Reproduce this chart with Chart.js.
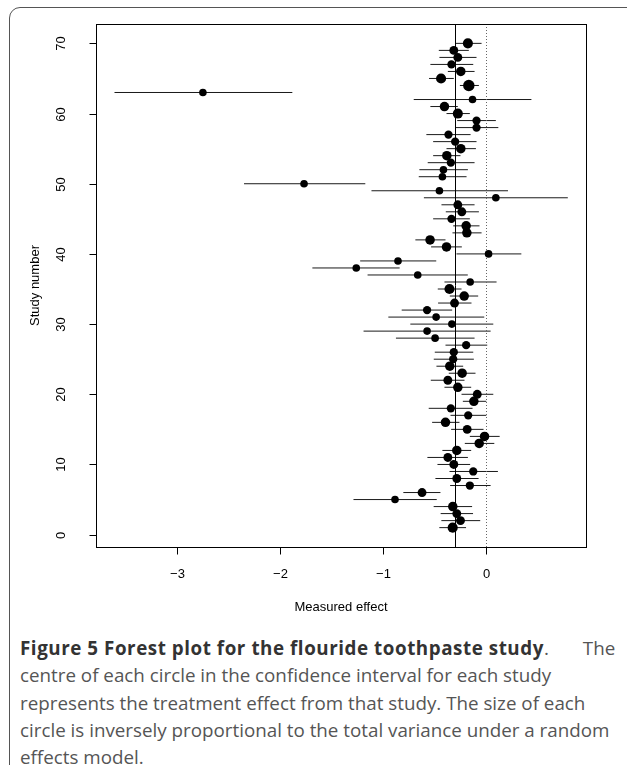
<!DOCTYPE html>
<html>
<head>
<meta charset="utf-8">
<script src="https://cdn.jsdelivr.net/npm/chart.js@4.4.0/dist/chart.umd.min.js"></script>
<style>
  body { margin: 0; background: #fff; width: 627px; height: 765px; overflow: hidden; position: relative; }
  #frame { position: absolute; left: 9px; top: 7px; width: 700px; height: 800px; border: 1.5px solid #555; border-radius: 11px; }
  #plot { position: absolute; left: 0; top: 0; }
  #caption { position: absolute; left: 20px; top: 635px; font-family: "Open Sans", sans-serif; font-size: 18.8px; line-height: 27.3px; color: #555; white-space: nowrap; }
  #caption b { color: #333; font-weight: 700; letter-spacing: 0.55px; }
  #caption .gap { display: inline-block; width: 34px; }
</style>
</head>
<body>
<div id="frame"></div>
<canvas id="plot" width="627" height="620"></canvas>
<div id="caption"><b>Figure 5 Forest plot for the flouride toothpaste study</b>.<span class="gap"></span>The<br>centre of each circle in the confidence interval for each study<br>represents the treatment effect from that study. The size of each<br>circle is inversely proportional to the total variance under a random<br>effects model.</div>
<script>
// study numbers (y) and read-off effects with 95% intervals
var studyNumber = [1, 2, 3, 4, 5, 6, 7, 8, 9, 10,
  11, 12, 13, 14, 15, 16, 17, 18, 19, 20,
  21, 22, 23, 24, 25, 26, 27, 28, 29, 30,
  31, 32, 33, 34, 35, 36, 37, 38, 39, 40,
  41, 42, 43, 44, 45, 46, 47, 48, 49, 50,
  51, 52, 53, 54, 55, 56, 57, 58, 59, 60,
  61, 62, 63, 64, 65, 66, 67, 68, 69, 70];

var effect = [-0.32, -0.244, -0.28, -0.319, -0.881, -0.618, -0.153, -0.28, -0.12, -0.309,
  -0.367, -0.28, -0.062, -0.01, -0.179, -0.39, -0.169, -0.338, -0.114, -0.081,
  -0.27, -0.367, -0.228, -0.348, -0.315, -0.309, -0.189, -0.491, -0.569, -0.328,
  -0.481, -0.569, -0.302, -0.208, -0.351, -0.15, -0.66, -1.258, -0.852, 0.029,
  -0.38, -0.54, -0.182, -0.189, -0.332, -0.231, -0.27, 0.10, -0.449, -1.766,
  -0.42, -0.41, -0.338, -0.377, -0.241, -0.296, -0.361, -0.088, -0.088, -0.27,
  -0.40, -0.127, -2.75, -0.163, -0.433, -0.241, -0.332, -0.27, -0.309, -0.172];

var ciLower = [-0.45, -0.43, -0.437, -0.505, -1.285, -0.80, -0.345, -0.488, -0.351, -0.468,
  -0.566, -0.42, -0.202, -0.153, -0.335, -0.52, -0.341, -0.553, -0.221, -0.234,
  -0.40, -0.533, -0.358, -0.478, -0.504, -0.494, -0.39, -0.872, -1.187, -0.732,
  -0.946, -0.816, -0.462, -0.348, -0.465, -0.40, -1.148, -1.685, -1.22, -0.283,
  -0.53, -0.683, -0.322, -0.315, -0.51, -0.387, -0.429, -0.60, -1.11, -2.35,
  -0.65, -0.644, -0.563, -0.51, -0.38, -0.51, -0.576, -0.293, -0.276, -0.38,
  -0.537, -0.699, -3.61, -0.25, -0.55, -0.367, -0.537, -0.449, -0.455, -0.293];

var ciUpper = [-0.19, -0.052, -0.122, -0.131, -0.475, -0.439, 0.049, -0.068, 0.12, -0.15,
  -0.172, -0.14, 0.085, 0.137, -0.02, -0.254, 0.007, -0.127, 0.007, 0.075,
  -0.14, -0.205, -0.098, -0.218, -0.114, -0.12, 0.016, -0.107, 0.049, 0.075,
  -0.013, -0.325, -0.137, -0.072, -0.234, 0.107, -0.173, -0.836, -0.48, 0.348,
  -0.231, -0.39, -0.039, -0.059, -0.153, -0.065, -0.107, 0.80, 0.218, -1.17,
  -0.185, -0.172, -0.107, -0.244, -0.094, -0.088, -0.146, 0.124, 0.10, -0.153,
  -0.27, 0.446, -1.88, -0.065, -0.309, -0.107, -0.12, -0.088, -0.163, -0.039];

var weights = [0.71, 0.43, 0.43, 0.57, 0.14, 0.43, 0.29, 0.43, 0.29, 0.43,
  0.43, 0.57, 0.57, 0.57, 0.43, 0.57, 0.29, 0.29, 0.57, 0.43,
  0.57, 0.43, 0.57, 0.57, 0.29, 0.29, 0.29, 0.14, 0.14, 0.14,
  0.14, 0.29, 0.43, 0.57, 0.71, 0.14, 0.14, 0.14, 0.14, 0.14,
  0.57, 0.57, 0.57, 0.57, 0.29, 0.43, 0.43, 0.14, 0.14, 0.14,
  0.14, 0.14, 0.29, 0.57, 0.57, 0.29, 0.29, 0.29, 0.29, 0.71,
  0.57, 0.14, 0.14, 1.0, 0.71, 0.57, 0.29, 0.43, 0.43, 0.71];

var pooledEffect = -0.30;
var xTicks = [-3, -2, -1, 0];
var yTicks = [0, 10, 20, 30, 40, 50, 60, 70];

var points = studyNumber.map(function (s, i) { return { x: effect[i], y: s }; });
var radii = weights.map(function (w) { return 3.5 + 2.2 * w; });

var tickFont = '13px "Liberation Sans", Arial, sans-serif';

var forestPlugin = {
  id: 'forest',
  beforeDatasetsDraw: function (chart) {
    var ctx = chart.ctx, a = chart.chartArea, x = chart.scales.x, y = chart.scales.y;
    ctx.save();
    ctx.strokeStyle = '#1a1a1a';
    ctx.lineWidth = 1;
    for (var i = 0; i < studyNumber.length; i++) {
      var py = y.getPixelForValue(studyNumber[i]);
      ctx.beginPath();
      ctx.moveTo(x.getPixelForValue(ciLower[i]), py);
      ctx.lineTo(x.getPixelForValue(ciUpper[i]), py);
      ctx.stroke();
    }
    // pooled estimate
    var px = Math.round(x.getPixelForValue(pooledEffect)) + 0.5;
    ctx.strokeStyle = '#000';
    ctx.beginPath();
    ctx.moveTo(px, a.top);
    ctx.lineTo(px, a.bottom);
    ctx.stroke();
    // no effect
    var zx = Math.round(x.getPixelForValue(0)) + 0.5;
    ctx.strokeStyle = '#666';
    ctx.setLineDash([1, 2]);
    ctx.beginPath();
    ctx.moveTo(zx, a.top);
    ctx.lineTo(zx, a.bottom);
    ctx.stroke();
    ctx.restore();
  },
  afterDraw: function (chart) {
    var ctx = chart.ctx, a = chart.chartArea, x = chart.scales.x, y = chart.scales.y;
    ctx.save();
    ctx.strokeStyle = '#000';
    ctx.lineWidth = 1;
    ctx.strokeRect(Math.round(a.left) + 0.5, Math.round(a.top) + 0.5,
      Math.round(a.right - a.left), Math.round(a.bottom - a.top));
    ctx.fillStyle = '#000';
    ctx.font = tickFont;
    ctx.textAlign = 'center';
    ctx.textBaseline = 'middle';
    var by = Math.round(a.bottom) + 0.5;
    xTicks.forEach(function (t) {
      var px = Math.round(x.getPixelForValue(t)) + 0.5;
      ctx.beginPath();
      ctx.moveTo(px, by);
      ctx.lineTo(px, by + 7);
      ctx.stroke();
      ctx.fillText(String(t).replace('-', '\u2212'), px, a.bottom + 27);
    });
    var lx = Math.round(a.left) + 0.5;
    yTicks.forEach(function (t) {
      var py = Math.round(y.getPixelForValue(t)) + 0.5;
      ctx.beginPath();
      ctx.moveTo(lx, py);
      ctx.lineTo(lx - 7, py);
      ctx.stroke();
      ctx.save();
      ctx.translate(a.left - 35, py);
      ctx.rotate(-Math.PI / 2);
      ctx.fillText(String(t), 0, 0);
      ctx.restore();
    });
    ctx.fillText('Measured effect', (a.left + a.right) / 2, 607);
    ctx.save();
    ctx.translate(35, (a.top + a.bottom) / 2);
    ctx.rotate(-Math.PI / 2);
    ctx.fillText('Study number', 0, 0);
    ctx.restore();
    ctx.restore();
  }
};

new Chart(document.getElementById('plot').getContext('2d'), {
  type: 'scatter',
  data: {
    datasets: [{
      data: points,
      pointRadius: radii,
      pointBackgroundColor: '#000',
      pointBorderWidth: 0,
      pointHoverRadius: radii
    }]
  },
  options: {
    responsive: false,
    animation: false,
    events: [],
    layout: { padding: { left: 96, right: 41, top: 24, bottom: 73 } },
    plugins: { legend: { display: false }, tooltip: { enabled: false } },
    scales: {
      x: { type: 'linear', min: -3.79, max: 0.977, display: false },
      y: { type: 'linear', min: -1.76, max: 72.76, display: false }
    }
  },
  plugins: [forestPlugin]
});
</script>
</body>
</html>
